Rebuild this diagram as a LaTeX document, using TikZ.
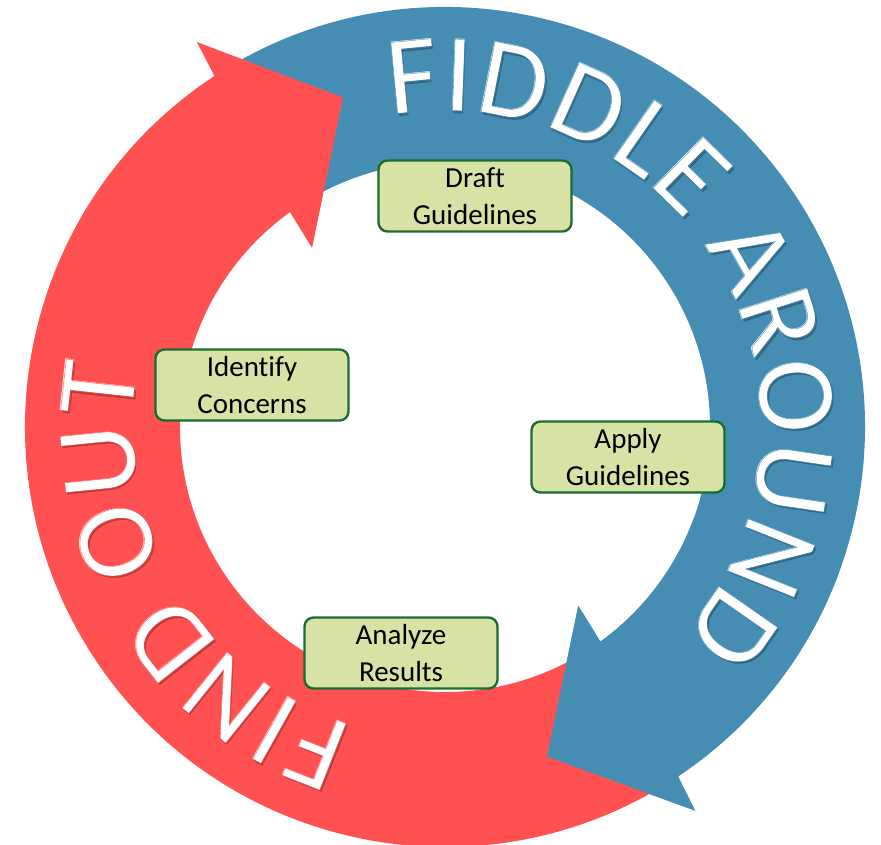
\documentclass[tikz,border=0pt]{standalone}
\usepackage{fontspec}
\setmainfont{Carlito}[Ligatures=NoCommon]
\usetikzlibrary{calc,decorations.text}
\definecolor{ringblue}{RGB}{70,141,179}
\definecolor{ringred}{RGB}{255,81,81}
\definecolor{boxfill}{RGB}{214,227,164}
\definecolor{boxline}{RGB}{28,108,50}
% ring lettering: large Carlito with a little tracking
\newcommand\ringfmt{\fontsize{112}{112}\selectfont\kern1.8pt}
% stroke-only text rendering, used to slim the letters
\newcommand\strokeonly{\special{pdf:literal direct 1 Tr}}
\begin{document}
\begin{tikzpicture}[x=1pt,y=1pt,
  stagebox/.style={draw=boxline, fill=boxfill, line width=2.4pt,
    rounded corners=9pt, minimum width=193pt, minimum height=71pt,
    align=center, inner sep=0pt, font=\fontsize{29}{37}\selectfont},
  % #1 = text, #2 = colour, #3 = extra format
  ringtext/.style n args={3}{decorate, decoration={text along path,
    text align=center, text={|\ringfmt\color{#2}#3|#1}}},
  slim/.style={line width=2pt},
]
\useasboundingbox (0,0) rectangle (881,844);
\coordinate (C) at (445,417);
\coordinate (S) at (1.6,-2.6);

% blue circular arrow (clockwise, head at lower right)
\fill[ringblue] ($(C)+(122:420)$) arc[start angle=122, end angle=-56.3, radius=420]
  -- ($(C)+(-56.9:458)$) -- ($(C)+(-72.8:345)$) -- ($(C)+(-53.3:223)$)
  -- ($(C)+(-54.1:265)$) arc[start angle=-54.1, end angle=122, radius=265] -- cycle;

% red circular arrow (clockwise, head at upper left)
\fill[ringred] ($(C)+(-58:420)$) arc[start angle=-58, end angle=-236.7, radius=420]
  -- ($(C)+(122.8:458)$) -- ($(C)+(107.2:345)$) -- ($(C)+(126.6:223)$)
  -- ($(C)+(125.8:265)$) arc[start angle=-234.2, end angle=-58, radius=265] -- cycle;

% blue head again, so that it lies over the red tail
\fill[ringblue] ($(C)+(-20:420)$) arc[start angle=-20, end angle=-56.3, radius=420]
  -- ($(C)+(-56.9:458)$) -- ($(C)+(-72.8:345)$) -- ($(C)+(-53.3:223)$)
  -- ($(C)+(-54.1:265)$) arc[start angle=-54.1, end angle=-20, radius=265] -- cycle;

% lettering along the blue arrow: soft shadow, then slim white letters
\path[ringtext={FIDDLE AROUND}{ringblue!72!black}{}]
  ($(C)+(S)+(109.5:316)$) arc[start angle=109.5, end angle=-50.5, radius=316];
\path[slim, ringtext={FIDDLE AROUND}{ringblue}{\strokeonly}]
  ($(C)+(S)+(109.5:316)$) arc[start angle=109.5, end angle=-50.5, radius=316];
\path[ringtext={FIDDLE AROUND}{white}{}]
  ($(C)+(109.5:316)$) arc[start angle=109.5, end angle=-50.5, radius=316];
\path[slim, ringtext={FIDDLE AROUND}{ringblue}{\strokeonly}]
  ($(C)+(109.5:316)$) arc[start angle=109.5, end angle=-50.5, radius=316];

% lettering along the red arrow
\path[ringtext={FIND OUT}{ringred!72!black}{}]
  ($(C)+(S)+(-89:312)$) arc[start angle=-89, end angle=-209, radius=312];
\path[slim, ringtext={FIND OUT}{ringred}{\strokeonly}]
  ($(C)+(S)+(-89:312)$) arc[start angle=-89, end angle=-209, radius=312];
\path[ringtext={FIND OUT}{white}{}]
  ($(C)+(-89:312)$) arc[start angle=-89, end angle=-209, radius=312];
\path[slim, ringtext={FIND OUT}{ringred}{\strokeonly}]
  ($(C)+(-89:312)$) arc[start angle=-89, end angle=-209, radius=312];

% process steps
\node[stagebox] (draft)    at (475,648) {Draft\\Guidelines};
\node[stagebox] (identify) at (252,459) {Identify\\Concerns};
\node[stagebox] (apply)    at (628,387) {Apply\\Guidelines};
\node[stagebox] (analyze)  at (401,191) {Analyze\\Results};
\end{tikzpicture}
\end{document}
